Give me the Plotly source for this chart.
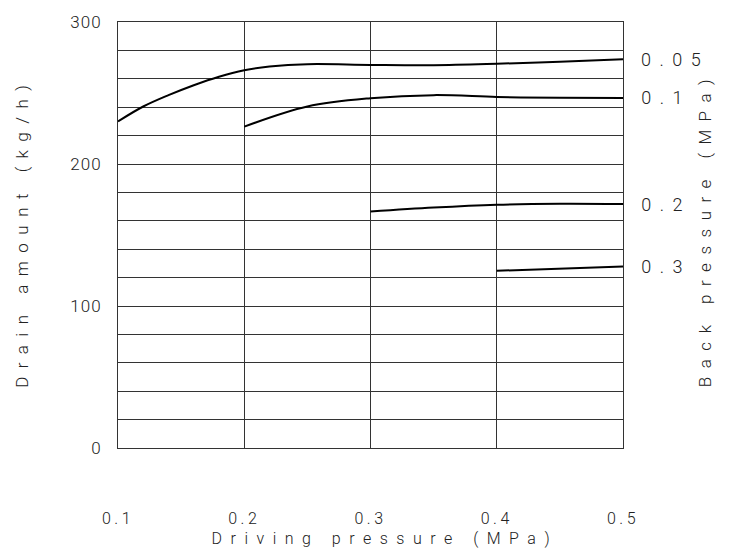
import plotly.graph_objects as go

# Data
x_005 = [0.10, 0.12, 0.14, 0.16, 0.18, 0.20, 0.22, 0.25, 0.30, 0.35, 0.40, 0.45, 0.50]
y_005 = [230.0, 240.5, 248.5, 255.5, 261.5, 266.0, 268.6, 270.3, 269.8, 269.6, 270.6, 272.0, 273.8]
x_01 = [0.20, 0.25, 0.30, 0.35, 0.40, 0.45, 0.50]
y_01 = [226.3, 240.5, 246.3, 248.5, 247.2, 246.6, 246.5]
x_02 = [0.30, 0.35, 0.40, 0.45, 0.50]
y_02 = [166.5, 169.3, 171.3, 172.0, 171.8]
x_03 = [0.40, 0.50]
y_03 = [124.8, 127.8]
back_pressures = ["0.05", "0.1", "0.2", "0.3"]
x_ticks = [0.1, 0.2, 0.3, 0.4, 0.5]
x_ticklabels = ["0.1", "0.2", "0.3", "0.4", "0.5"]
y_ticks = [0, 100, 200, 300]

FONT = "Roboto"
series = [(x_005, y_005), (x_01, y_01), (x_02, y_02), (x_03, y_03)]

fig = go.Figure()
for (xs, ys), name in zip(series, back_pressures):
    fig.add_trace(go.Scatter(x=xs, y=ys, mode="lines", name=name,
                             line=dict(color="black", width=2, shape="spline", smoothing=1.0),
                             showlegend=False, hoverinfo="skip"))

annotations = []
for (xs, ys), name in zip(series, back_pressures):
    annotations.append(dict(x=1, xref="paper", y=ys[-1], yref="y", text=name,
                            showarrow=False, xanchor="left", yanchor="middle",
                            xshift=17 + 4 * len(name),
                            font=dict(family=FONT, size=18, color="#222", weight=300)))

annotations += [
    dict(x=0.529, y=-0.213, xref="paper", yref="paper", text="Driving pressure (MPa)",
         showarrow=False, xanchor="center", yanchor="middle",
         font=dict(family=FONT, size=16, color="#222", weight=300)),
    dict(x=-0.19, y=0.507, xref="paper", yref="paper", text="Drain amount (kg/h)",
         showarrow=False, xanchor="center", yanchor="middle", textangle=-90,
         font=dict(family=FONT, size=17, color="#222", weight=300)),
    dict(x=1.162, y=0.515, xref="paper", yref="paper", text="Back pressure (MPa)",
         showarrow=False, xanchor="center", yanchor="middle", textangle=-90,
         font=dict(family=FONT, size=17, color="#222", weight=300)),
]

fig.update_layout(
    width=739, height=549,
    margin=dict(l=118, r=116, t=20, b=101),
    paper_bgcolor="white", plot_bgcolor="white",
    annotations=annotations,
    xaxis=dict(range=[0.1, 0.5], tickvals=x_ticks, ticktext=x_ticklabels,
               showgrid=True, gridcolor="#333", gridwidth=1,
               showline=True, linecolor="#333", linewidth=1, mirror=True,
               ticks="", zeroline=False, ticklabelstandoff=56,
               tickfont=dict(family=FONT, size=16, color="#222", weight=300)),
    yaxis=dict(range=[0, 300], tickvals=y_ticks,
               showgrid=True, gridcolor="#333", gridwidth=1,
               minor=dict(dtick=20, showgrid=True, gridcolor="#333", gridwidth=1),
               showline=True, linecolor="#333", linewidth=1, mirror=True,
               ticks="", zeroline=False, ticklabelstandoff=12,
               tickfont=dict(family=FONT, size=17, color="#222", weight=300)),
)

post = """
document.body.style.margin = '0';
var gd = document.getElementById('{plot_id}');
function spacing(){
  gd.querySelectorAll('.annotation-text').forEach(function(t){ t.style.letterSpacing = '8.5px'; });
  gd.querySelectorAll('.xtick text').forEach(function(t){ t.style.letterSpacing = '3.5px'; });
  gd.querySelectorAll('.ytick text').forEach(function(t){ t.style.letterSpacing = '1px'; });
}
spacing();
gd.on('plotly_afterplot', spacing);
"""
fig.write_html("out.html", post_script=post, config={"displayModeBar": False})
